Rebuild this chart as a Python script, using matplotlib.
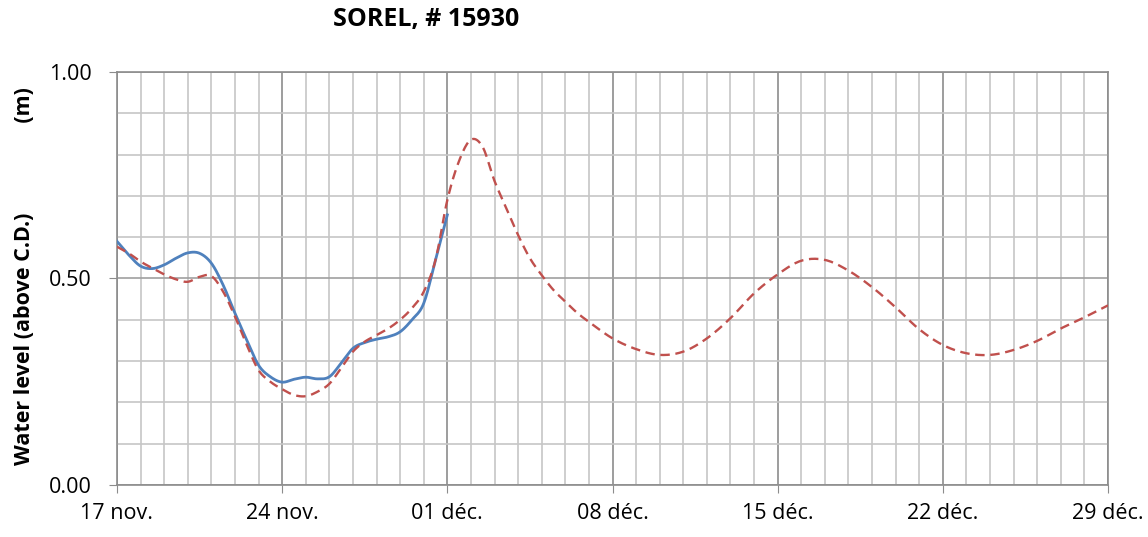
import numpy as np
import matplotlib
matplotlib.use('Agg')
import matplotlib.pyplot as plt
from matplotlib.ticker import MultipleLocator

# jours depuis le 17 nov.
obs_days = [0, 0.5, 1, 1.5, 2, 2.5, 3, 3.5, 4, 4.5, 5, 5.5, 6, 6.5, 7,
            7.5, 8, 8.5, 9, 9.5, 10, 10.5, 11, 11.5, 12, 12.5, 13, 13.5, 14]
obs_level = [0.590, 0.557, 0.530, 0.524, 0.533, 0.549, 0.562, 0.561, 0.537,
             0.484, 0.416, 0.351, 0.290, 0.262, 0.249, 0.256, 0.261, 0.257,
             0.262, 0.295, 0.331, 0.345, 0.353, 0.359, 0.371, 0.400, 0.440,
             0.545, 0.654]

pred_days = [0, 0.5, 1, 1.5, 2, 2.5, 3, 3.5, 4, 4.5, 5, 5.5, 6, 6.5, 7,
             7.5, 8, 8.5, 9, 9.5, 10, 10.5, 11, 11.5, 12, 12.5, 13, 13.5,
             14, 14.5, 15, 15.5, 16, 16.5, 17, 17.5, 18, 18.5, 19,
             19.5, 20, 21, 22, 23, 24, 25, 26, 27, 28, 29, 30, 31, 32, 33,
             34, 35, 36, 37, 38, 39, 40, 41, 42]
pred_level = [0.577, 0.561, 0.541, 0.525, 0.510, 0.498, 0.492, 0.504, 0.506,
              0.468, 0.408, 0.339, 0.278, 0.250, 0.232, 0.218, 0.215, 0.226,
              0.245, 0.283, 0.323, 0.347, 0.363, 0.379, 0.400, 0.428, 0.468,
              0.545, 0.690, 0.785, 0.836, 0.818, 0.736, 0.670, 0.605,
              0.549, 0.508, 0.472, 0.444, 0.417, 0.395, 0.355, 0.329, 0.315,
              0.323, 0.355, 0.404, 0.464, 0.510, 0.543, 0.545, 0.519, 0.479,
              0.430, 0.377, 0.339, 0.319, 0.315, 0.327, 0.349, 0.379, 0.406,
              0.435]

tick_days = [0, 7, 14, 21, 28, 35, 42]
tick_labels = ['17 nov.', '24 nov.', '01 déc.', '08 déc.', '15 déc.', '22 déc.', '29 déc.']


def smooth_line(x, y, n=12):
    # trace lissé comme une "courbe lissée" Excel (Catmull-Rom), passe par les points lus
    x = np.asarray(x, float)
    y = np.asarray(y, float)
    px = np.concatenate([[2 * x[0] - x[1]], x, [2 * x[-1] - x[-2]]])
    py = np.concatenate([[2 * y[0] - y[1]], y, [2 * y[-1] - y[-2]]])
    xs, ys = [], []
    t = np.linspace(0, 1, n, endpoint=False)
    for i in range(1, len(px) - 2):
        for p, out in ((px, xs), (py, ys)):
            p0, p1, p2, p3 = p[i - 1], p[i], p[i + 1], p[i + 2]
            out.extend(0.5 * (2 * p1 + (-p0 + p2) * t
                              + (2 * p0 - 5 * p1 + 4 * p2 - p3) * t ** 2
                              + (-p0 + 3 * p1 - 3 * p2 + p3) * t ** 3))
    xs.append(x[-1])
    ys.append(y[-1])
    return xs, ys


plt.rcParams['font.family'] = ['Open Sans', 'DejaVu Sans']

fig = plt.figure(figsize=(11.48, 5.37), dpi=100)
ax = fig.add_axes([0.1019, 0.0968, 0.8633, 0.7692])

ax.plot(*smooth_line(obs_days, obs_level), color='#4F81BD', lw=2.0, zorder=3)
ax.plot(*smooth_line(pred_days, pred_level), color='#C0504D', lw=1.7,
        ls=(0, (4, 2.4)), zorder=4)

ax.set_xlim(0, 42)
ax.set_ylim(0, 1)
ax.set_xticks(tick_days)
ax.set_xticklabels(tick_labels, fontsize=15.5)
ax.xaxis.set_minor_locator(MultipleLocator(1))
ax.set_yticks([0, 0.5, 1.0])
ax.set_yticklabels(['0.00', '0.50', '1.00'], fontsize=15.5)
ax.yaxis.set_minor_locator(MultipleLocator(0.1))

ax.grid(which='minor', color='#c6c6c6', lw=1.2)
ax.grid(which='major', axis='x', color='#8c8c8c', lw=1.2)
ax.grid(which='major', axis='y', color='#a0a0a0', lw=1.2)
ax.set_axisbelow(True)

ax.tick_params(which='major', direction='out', length=6, color='#8c8c8c')
ax.tick_params(axis='x', pad=7)
ax.tick_params(axis='y', pad=12)
ax.tick_params(which='minor', length=0)
for s in ax.spines.values():
    s.set_color('#8c8c8c')
    s.set_linewidth(1.2)

ax.set_ylabel('Water level (above C.D.)                (m)', fontsize=15.5,
              fontweight='bold')
ax.yaxis.set_label_coords(-0.083, 0.505)
fig.text(0.371, 0.963, 'SOREL, # 15930', fontsize=18, fontweight='bold',
         ha='center', va='center')

fig.savefig('out.png', dpi=100)
